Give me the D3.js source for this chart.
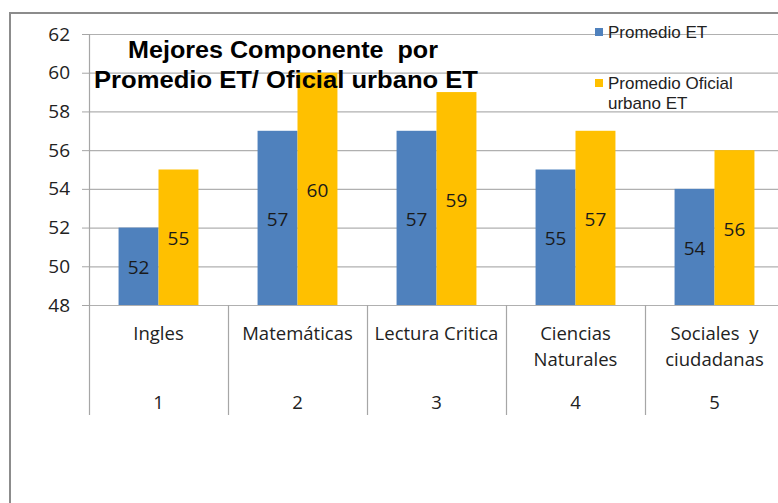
<!DOCTYPE html>
<html>
<head>
<meta charset="utf-8">
<script src="https://cdn.jsdelivr.net/npm/d3@7"></script>
<style>
  body { margin: 0; background: #fff; }
  svg { display: block; }
</style>
</head>
<body>
<div id="chart"></div>
<script>
// Data
const categories = ["Ingles", "Matemáticas", "Lectura Critica", "Ciencias Naturales", "Sociales  y ciudadanas"];
const categoryLines = [["Ingles"], ["Matemáticas"], ["Lectura Critica"], ["Ciencias", "Naturales"], ["Sociales  y", "ciudadanas"]];
const categoryNumbers = ["1", "2", "3", "4", "5"];
const promedioET = [52, 57, 57, 55, 54];
const promedioOficial = [55, 60, 59, 57, 56];
const seriesNames = ["Promedio ET", "Promedio Oficial urbano ET"];
const yTicks = [48, 50, 52, 54, 56, 58, 60, 62];

const W = 778, H = 503;
const plotLeft = 89, plotRight = 784, plotTop = 34, plotBottom = 305;
const labelFont = "'Open Sans', Lato, sans-serif";

const svg = d3.select("#chart").append("svg")
    .attr("width", W)
    .attr("height", H);

// outer frame (runs off the page right and bottom)
svg.append("path")
    .attr("d", `M10,${H + 5} L10,13 L${W + 5},13`)
    .attr("fill", "none")
    .attr("stroke", "#8c8c8c")
    .attr("stroke-width", 2);

// Scales
const x0 = d3.scaleBand()
    .domain(categories)
    .range([plotLeft, plotRight]);

const x1 = d3.scaleBand()
    .domain(seriesNames)
    .range([0, x0.bandwidth()])
    .paddingOuter(0.74);

const y = d3.scaleLinear()
    .domain([48, 62])
    .range([plotBottom, plotTop]);

const color = d3.scaleOrdinal()
    .domain(seriesNames)
    .range(["#4f81bd", "#ffc000"]);

// gridlines + y axis
const yAxis = svg.append("g")
    .attr("transform", `translate(${plotLeft},0)`)
    .call(d3.axisLeft(y).tickValues(yTicks).tickSize(7).tickPadding(12).tickFormat(d3.format("d")));
yAxis.select(".domain").remove();
yAxis.selectAll("line").attr("stroke", "#a6a6a6");
yAxis.selectAll("text")
    .attr("font-family", labelFont)
    .attr("font-size", 19)
    .attr("fill", "#222");

svg.append("g")
    .selectAll("line")
    .data(yTicks)
    .enter()
    .append("line")
    .attr("x1", plotLeft)
    .attr("x2", W)
    .attr("y1", d => y(d) + 0.5)
    .attr("y2", d => y(d) + 0.5)
    .attr("stroke", "#b0b0b0")
    .attr("stroke-width", 1.2);

// bars
const data = categories.map((c, i) => ({
    cat: c,
    values: [
        { key: seriesNames[0], value: promedioET[i] },
        { key: seriesNames[1], value: promedioOficial[i] }
    ]
}));

const groups = svg.selectAll(".cat-group")
    .data(data)
    .enter()
    .append("g")
    .attr("class", "cat-group")
    .attr("transform", d => `translate(${x0(d.cat)},0)`);

groups.selectAll("rect")
    .data(d => d.values)
    .enter()
    .append("rect")
    .attr("x", d => x1(d.key))
    .attr("y", d => y(d.value))
    .attr("width", x1.bandwidth())
    .attr("height", d => y(48) - y(d.value))
    .attr("fill", d => color(d.key));

groups.selectAll(".val")
    .data(d => d.values)
    .enter()
    .append("text")
    .attr("class", "val")
    .attr("x", d => x1(d.key) + x1.bandwidth() / 2)
    .attr("y", d => (y(d.value) + y(48)) / 2 + 3)
    .attr("text-anchor", "middle")
    .attr("dominant-baseline", "middle")
    .attr("font-family", labelFont)
    .attr("font-size", 19)
    .attr("fill", "#1a1a1a")
    .text(d => d.value);

// category axis: vertical dividers
const dividers = categories.map(c => x0(c)).concat([plotRight]);
svg.append("g")
    .selectAll("line")
    .data(dividers)
    .enter()
    .append("line")
    .attr("x1", d => Math.round(d) + 0.5)
    .attr("x2", d => Math.round(d) + 0.5)
    .attr("y1", (d, i) => i === 0 ? plotTop : plotBottom)
    .attr("y2", 415)
    .attr("stroke", "#a6a6a6")
    .attr("stroke-width", 1.2);

// category labels
const catLabels = svg.append("g");
categories.forEach((c, i) => {
    const cx = x0(c) + x0.bandwidth() / 2;
    categoryLines[i].forEach((line, j) => {
        catLabels.append("text")
            .attr("x", cx)
            .attr("y", 340 + j * 26)
            .attr("text-anchor", "middle")
            .attr("font-family", labelFont)
            .attr("font-size", 18.5)
            .attr("fill", "#222")
            .style("white-space", "pre")
            .text(line);
    });
    catLabels.append("text")
        .attr("x", cx)
        .attr("y", 409)
        .attr("text-anchor", "middle")
        .attr("font-family", labelFont)
        .attr("font-size", 18.5)
        .attr("fill", "#222")
        .text(categoryNumbers[i]);
});

// title
const title = svg.append("text")
    .attr("text-anchor", "middle")
    .attr("font-family", "'Liberation Sans', Arial, sans-serif")
    .attr("font-weight", "bold")
    .attr("font-size", 23)
    .attr("fill", "#000");
title.append("tspan").attr("x", 283).attr("y", 58)
    .attr("textLength", 310).attr("lengthAdjust", "spacingAndGlyphs")
    .style("white-space", "pre").text("Mejores Componente  por");
title.append("tspan").attr("x", 286).attr("y", 88)
    .attr("textLength", 384).attr("lengthAdjust", "spacingAndGlyphs")
    .text("Promedio ET/ Oficial urbano ET");

// legend
const legend = svg.append("g")
    .attr("font-family", "'Liberation Sans', Arial, sans-serif")
    .attr("font-size", 17)
    .attr("fill", "#222");
legend.append("rect").attr("x", 595).attr("y", 28).attr("width", 8).attr("height", 8).attr("fill", color(seriesNames[0]));
legend.append("text").attr("x", 608).attr("y", 38).text("Promedio ET");
legend.append("rect").attr("x", 595).attr("y", 79).attr("width", 8).attr("height", 8).attr("fill", color(seriesNames[1]));
legend.append("text").attr("x", 608).attr("y", 89).text("Promedio Oficial");
legend.append("text").attr("x", 608).attr("y", 109).text("urbano ET");
</script>
</body>
</html>
